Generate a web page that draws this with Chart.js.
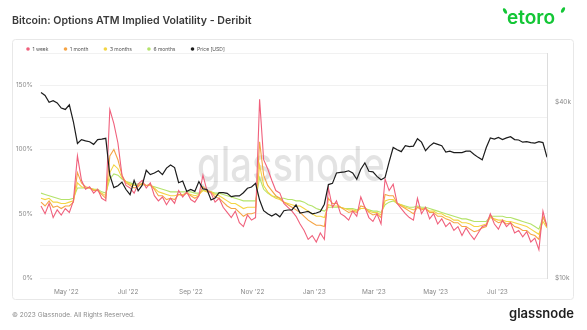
<!DOCTYPE html>
<html>
<head>
<meta charset="utf-8">
<script src="https://cdn.jsdelivr.net/npm/chart.js@4.4.0/dist/chart.umd.min.js"></script>
<style>
  html, body { margin: 0; padding: 0; background: #fff; }
  canvas { display: block; }
</style>
</head>
<body>
<canvas id="chart" width="587" height="330"></canvas>
<script>
// samples every 4 days, day numbers counted from 5 Apr 2022 (UTC)
const START = Date.UTC(2022, 3, 5);
const DAY = 86400000;
const FIRST_DAY = 1;
const STEP_DAYS = 4;

// ATM implied volatility, %
const week = [
  56, 50, 58, 47, 53, 49, 54, 51, 60, 95, 76, 69, 71, 66, 69, 62, 60, 131, 120, 105,
  80, 72, 70, 66, 73, 76, 70, 74, 64, 60, 63, 57, 62, 58, 68, 63, 67, 61, 59, 64,
  80, 68, 66, 59, 62, 55, 51, 47, 52, 43, 40, 49, 45, 47, 139, 92, 85, 76, 68, 66,
  58, 55, 52, 48, 42, 37, 30, 33, 28, 35, 30, 70, 55, 60, 50, 48, 45, 52, 48, 63,
  55, 47, 44, 50, 42, 77, 68, 73, 58, 54, 50, 47, 45, 62, 50, 55, 46, 50, 42, 46,
  40, 43, 37, 40, 33, 39, 34, 30, 35, 40, 41, 50, 42, 38, 45, 40, 43, 35, 37, 32,
  36, 28, 31, 22, 52, 40
];
const month = [
  59, 56, 60, 55, 56, 54, 56, 56, 59, 82, 74, 71, 70, 68, 68, 65, 62, 95, 100, 92,
  80, 74, 72, 70, 71, 74, 72, 73, 69, 64, 64, 61, 62, 61, 65, 64, 66, 64, 62, 64,
  71, 68, 67, 63, 62, 59, 56, 54, 54, 51, 48, 50, 50, 51, 106, 80, 72, 68, 64, 62,
  59, 57, 55, 53, 51, 48, 45, 43, 41, 41, 40, 62, 58, 58, 55, 53, 51, 52, 51, 56,
  55, 51, 49, 50, 47, 65, 64, 64, 58, 56, 54, 52, 50, 55, 53, 54, 51, 51, 48, 48,
  46, 45, 43, 43, 40, 40, 38, 36, 37, 39, 40, 49, 45, 43, 44, 42, 43, 40, 39, 37,
  37, 34, 33, 30, 48, 40
];
const threeMonths = [
  62, 61, 62, 59, 59, 58, 58, 59, 60, 74, 71, 70, 70, 69, 68, 66, 64, 82, 88, 85,
  78, 75, 73, 72, 72, 73, 72, 72, 70, 67, 66, 65, 64, 64, 65, 65, 66, 65, 64, 65,
  68, 67, 67, 65, 64, 62, 60, 58, 58, 56, 54, 55, 55, 55, 88, 72, 67, 64, 62, 61,
  59, 58, 57, 56, 56, 54, 52, 50, 48, 48, 47, 57, 56, 56, 55, 54, 53, 53, 52, 54,
  54, 52, 51, 51, 49, 60, 61, 61, 58, 57, 55, 54, 53, 55, 54, 54, 52, 52, 50, 50,
  48, 47, 45, 45, 43, 43, 42, 40, 40, 41, 42, 47, 46, 45, 45, 44, 44, 43, 42, 41,
  40, 38, 36, 34, 44, 39
];
const sixMonths = [
  66, 65, 64, 63, 62, 61, 61, 61, 62, 70, 70, 70, 70, 69, 69, 67, 66, 77, 81, 80,
  77, 75, 74, 73, 73, 73, 72, 72, 71, 70, 69, 68, 67, 67, 67, 67, 67, 67, 66, 66,
  68, 68, 67, 66, 66, 65, 64, 63, 62, 61, 60, 60, 60, 60, 78, 69, 66, 64, 63, 62,
  62, 61, 61, 60, 60, 59, 57, 56, 54, 53, 52, 55, 55, 55, 55, 54, 54, 54, 53, 54,
  54, 53, 52, 52, 51, 57, 59, 60, 58, 57, 56, 55, 55, 56, 55, 55, 54, 53, 52, 51,
  50, 49, 48, 47, 46, 46, 45, 44, 44, 44, 44, 48, 48, 48, 48, 47, 47, 46, 45, 44,
  43, 42, 40, 38, 47, 41
];
// BTC price, thousands of USD
const priceK = [
  43.2, 42.2, 40.0, 40.5, 39.8, 38.2, 37.8, 39.2, 34.3, 28.9, 29.8, 29.5, 29.3, 28.7, 29.8, 29.9, 30.1, 22.5, 20.4, 20.7,
  21.3, 20.1, 19.3, 21.6, 19.9, 20.8, 23.4, 22.6, 22.9, 23.3, 22.6, 23.8, 24.4, 23.9, 21.2, 21.5, 19.8, 20.1, 19.8, 21.4,
  20.2, 20.1, 18.5, 18.8, 19.6, 19.6, 19.5, 19.0, 19.1, 19.1, 19.6, 20.3, 20.5, 21.1, 18.5, 17.0, 16.6, 16.3, 16.6, 16.2,
  17.0, 17.1, 17.1, 17.8, 16.7, 16.8, 16.9, 16.6, 16.7, 16.9, 17.9, 20.9, 21.1, 22.9, 23.0, 23.1, 23.3, 22.9, 21.8, 23.6,
  24.8, 23.2, 23.1, 22.3, 21.7, 22.1, 25.0, 28.0, 27.5, 27.1, 28.4, 28.2, 28.3, 30.0, 29.2, 27.3, 28.3, 29.0, 28.7, 28.4,
  27.0, 27.2, 26.9, 26.9, 26.9, 27.2, 27.2, 26.5, 25.9, 25.4, 28.0, 30.2, 29.9, 30.3, 29.8, 30.2, 30.5, 29.8, 29.7, 29.2,
  29.3, 29.1, 29.0, 29.3, 29.1, 25.9
];

const days = week.map((_, i) => FIRST_DAY + i * STEP_DAYS);

// bottom axis: first day of every other month
const tickMonths = [[2022, 4], [2022, 6], [2022, 8], [2022, 10], [2023, 0], [2023, 2], [2023, 4], [2023, 6]];
const MONTHS = ['Jan', 'Feb', 'Mar', 'Apr', 'May', 'Jun', 'Jul', 'Aug', 'Sep', 'Oct', 'Nov', 'Dec'];
const priceTicks = [10000, 40000];

const COLORS = {
  week: '#f0607c',
  month: '#f5a445',
  threeMonths: '#f3d544',
  sixMonths: '#b4e36b',
  price: '#1c1c1c'
};

const FONT = 'Inter, "Noto Sans", sans-serif';

const legendItems = [
  ['1 week', COLORS.week],
  ['1 month', COLORS.month],
  ['3 months', COLORS.threeMonths],
  ['6 months', COLORS.sixMonths],
  ['Price [USD]', COLORS.price]
];

function dayToLabel(d) {
  const dt = new Date(START + d * DAY);
  return MONTHS[dt.getUTCMonth()] + " '" + String(dt.getUTCFullYear()).slice(2);
}

function roundRect(ctx, x, y, w, h, r) {
  ctx.beginPath();
  ctx.moveTo(x + r, y);
  ctx.lineTo(x + w - r, y);
  ctx.quadraticCurveTo(x + w, y, x + w, y + r);
  ctx.lineTo(x + w, y + h - r);
  ctx.quadraticCurveTo(x + w, y + h, x + w - r, y + h);
  ctx.lineTo(x + r, y + h);
  ctx.quadraticCurveTo(x, y + h, x, y + h - r);
  ctx.lineTo(x, y + r);
  ctx.quadraticCurveTo(x, y, x + r, y);
  ctx.closePath();
}

// page chrome: title, card, legend, logos, footer
const chromePlugin = {
  id: 'chrome',
  beforeDraw(chart) {
    const ctx = chart.ctx;
    ctx.save();
    ctx.fillStyle = '#fff';
    ctx.fillRect(0, 0, chart.width, chart.height);

    ctx.fillStyle = '#3a3a3a';
    ctx.font = '600 10.6px ' + FONT;
    ctx.textBaseline = 'middle';
    ctx.textAlign = 'left';
    ctx.fillText('Bitcoin: Options ATM Implied Volatility - Deribit', 12, 21);

    roundRect(ctx, 12.5, 39.5, 561, 260, 3);
    ctx.strokeStyle = '#e8e8e8';
    ctx.lineWidth = 1;
    ctx.stroke();

    // legend
    ctx.font = '5px ' + FONT;
    let x = 28;
    legendItems.forEach(([label, color]) => {
      ctx.fillStyle = color;
      ctx.beginPath();
      ctx.arc(x, 49, 1.8, 0, Math.PI * 2);
      ctx.fill();
      ctx.fillStyle = '#555';
      ctx.fillText(label, x + 4.5, 49);
      x += 4.5 + ctx.measureText(label).width + 17;
    });

    // eToro mark
    ctx.fillStyle = '#13c636';
    ctx.font = '600 19px ' + FONT;
    ctx.textAlign = 'left';
    ctx.fillText('etoro', 507, 18);
    ctx.beginPath();
    ctx.ellipse(505, 11, 1.6, 3, -0.5, 0, Math.PI * 2);
    ctx.fill();
    ctx.beginPath();
    ctx.ellipse(563, 10, 1.6, 3, 0.5, 0, Math.PI * 2);
    ctx.fill();

    // footer
    ctx.fillStyle = '#8a8a8a';
    ctx.font = '6.5px ' + FONT;
    ctx.fillText('\u00a9 2023 Glassnode. All Rights Reserved.', 12, 315);

    ctx.fillStyle = '#1e1e1e';
    ctx.font = '600 13px ' + FONT;
    ctx.textAlign = 'right';
    ctx.fillText('glassnode', 574, 314);
    ctx.restore();
  },
  beforeDatasetsDraw(chart) {
    const ctx = chart.ctx;
    ctx.save();
    ctx.fillStyle = 'rgba(0,0,0,0.11)';
    ctx.font = '500 48px ' + FONT;
    const w = ctx.measureText('glassnode').width;
    const scale = 188 / w;
    ctx.translate(291, 181);
    ctx.scale(scale, 1);
    ctx.textAlign = 'center';
    ctx.textBaseline = 'alphabetic';
    ctx.fillText('glassnode', 0, 0);
    ctx.restore();
  }
};

function line(label, data, color, axis, order, width) {
  return {
    label,
    data,
    borderColor: color,
    backgroundColor: color,
    borderWidth: width,
    pointRadius: 0,
    tension: 0,
    yAxisID: axis,
    order
  };
}

new Chart(document.getElementById('chart'), {
  type: 'line',
  data: {
    labels: days,
    datasets: [
      line('1 week', week, COLORS.week, 'vol', 1, 1.1),
      line('1 month', month, COLORS.month, 'vol', 2, 1.1),
      line('3 months', threeMonths, COLORS.threeMonths, 'vol', 3, 1.1),
      line('6 months', sixMonths, COLORS.sixMonths, 'vol', 4, 1.1),
      line('Price [USD]', priceK.map(v => v * 1000), COLORS.price, 'price', 0, 1.2)
    ]
  },
  options: {
    responsive: false,
    devicePixelRatio: 1,
    animation: false,
    layout: { padding: { left: 12, right: 13, top: 53, bottom: 30 } },
    plugins: { legend: { display: false }, tooltip: { enabled: false } },
    scales: {
      x: {
        type: 'linear',
        min: 0,
        max: 501,
        grid: { display: false, drawTicks: false },
        border: { display: false },
        afterBuildTicks(scale) {
          scale.ticks = tickMonths.map(([y, m]) => ({ value: (Date.UTC(y, m, 1) - START) / DAY }));
        },
        afterFit(scale) { scale.height = 22; },
        ticks: {
          padding: 10,
          maxRotation: 0,
          autoSkip: false,
          color: '#8a8a8a',
          font: { family: FONT, size: 6.5 },
          callback: v => dayToLabel(v)
        }
      },
      vol: {
        type: 'linear',
        position: 'left',
        min: 0,
        max: 175,
        grid: { color: '#f1f1f1', drawTicks: false },
        border: { display: false },
        afterFit(scale) { scale.width = 28; },
        ticks: {
          stepSize: 25,
          padding: 7,
          color: '#8a8a8a',
          font: { family: FONT, size: 6.5 },
          callback: v => (v % 50 === 0 && v < 175 ? v + '%' : '')
        }
      },
      price: {
        type: 'logarithmic',
        position: 'right',
        min: 10000,
        max: 59000,
        grid: { display: false, drawTicks: false },
        border: { display: true, color: '#dddddd' },
        afterBuildTicks(scale) {
          scale.ticks = priceTicks.map(v => ({ value: v }));
        },
        afterFit(scale) { scale.width = 27; },
        ticks: {
          padding: 8,
          color: '#8a8a8a',
          font: { family: FONT, size: 6.5 },
          callback: v => '$' + v / 1000 + 'k'
        }
      }
    }
  },
  plugins: [chromePlugin]
});
</script>
</body>
</html>
